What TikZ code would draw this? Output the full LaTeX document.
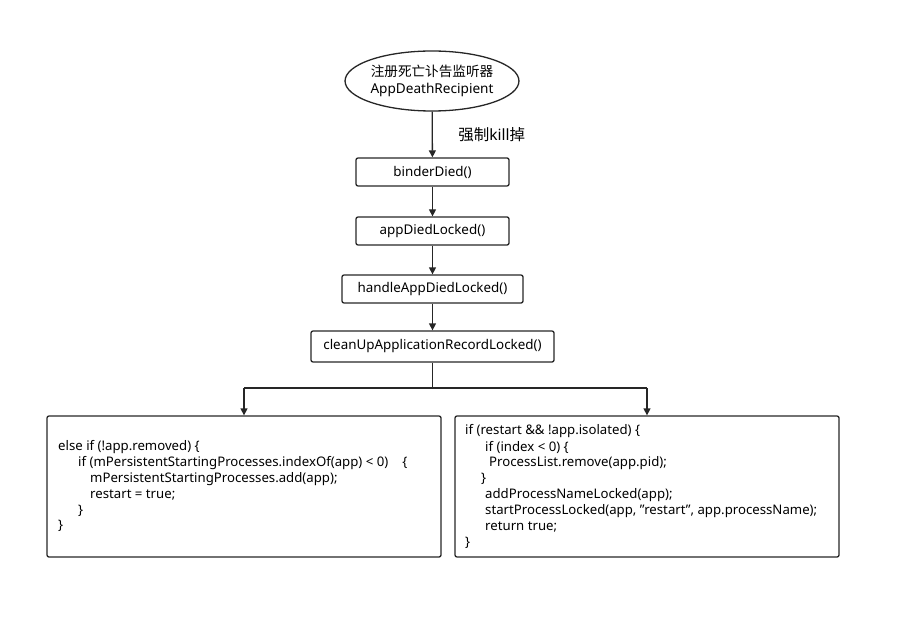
\documentclass[tikz,border=0pt]{standalone}
\usepackage{fontspec}
\setmainfont{Noto Sans}
\newfontfamily\cjk{Noto Sans CJK SC}
\usetikzlibrary{shapes.geometric,arrows.meta}
\begin{document}
\begin{tikzpicture}[x=1pt,y=-1pt,
  box/.style={draw=black!85,line width=1.3pt,rounded corners=2pt,inner sep=0pt,font=\fontsize{13.4}{15}\selectfont},
  arr/.style={line width=1.3pt,draw=black!85,-{Triangle[length=7pt,width=7pt]}},
  code/.style={anchor=west,inner sep=0pt,font=\fontsize{13.2}{15}\selectfont}]
\useasboundingbox (0,0) rectangle (901,620);
\node[ellipse,draw=black!85,line width=1.3pt,minimum width=150pt,minimum height=60pt,inner sep=0pt,align=center,font=\fontsize{13.6}{17}\selectfont] (e) at (432,81) {{\cjk 注册死亡讣告监听器}\\AppDeathRecipient};
\node[box,minimum width=153pt,minimum height=28pt] (b1) at (432.5,172) {binderDied()};
\node[box,minimum width=153pt,minimum height=28pt] (b2) at (432.5,231) {appDiedLocked()};
\node[box,minimum width=181pt,minimum height=28pt] (b3) at (432.5,289) {handleAppDiedLocked()};
\node[box,minimum width=243pt,minimum height=31pt] (b4) at (432.5,346.5) {cleanUpApplicationRecordLocked()};
\node[box,minimum width=394pt,minimum height=141pt] (L) at (244,486.5) {};
\node[box,minimum width=384pt,minimum height=141pt] (R) at (647,486.5) {};
\draw[arr] (e) -- (b1) node[midway,right=22pt,font=\fontsize{15.5}{17}\selectfont] (lab) {{\cjk 强制}kill{\cjk 掉}};
\draw[arr] (b1) -- (b2);
\draw[arr] (b2) -- (b3);
\draw[arr] (b3) -- (b4);
\coordinate (j) at (432.5,388);
\coordinate (jl) at (244,388);
\coordinate (jr) at (647,388);
\draw[line width=1.3pt,draw=black!85] (b4.south) -- (j) (jl) -- (jr);
\draw[arr] (jl) -- (L.north);
\draw[arr] (jr) -- (R.north);
\node[code] (l1) at (58,447) {else if (!app.removed) \{};
\node[code] (l2) at (78,463) {if (mPersistentStartingProcesses.indexOf(app) < 0)\hspace{14pt}\{};
\node[code] (l3) at (90,479) {mPersistentStartingProcesses.add(app);};
\node[code] (l4) at (90,495) {restart = true;};
\node[code] (l5) at (78,511) {\}};
\node[code] (l6) at (58,526) {\}};
\node[code] (r1) at (465,431) {if (restart \&\& !app.isolated) \{};
\node[code] (r2) at (485,447) {if (index < 0) \{};
\node[code] (r3) at (489,463) {ProcessList.remove(app.pid);};
\node[code] (r4) at (481,479) {\}};
\node[code] (r5) at (485,495) {addProcessNameLocked(app);};
\node[code] (r6) at (485,511) {startProcessLocked(app, "restart", app.processName);};
\node[code] (r7) at (485,527) {return true;};
\node[code] (r8) at (465,543) {\}};
\end{tikzpicture}
\end{document}
